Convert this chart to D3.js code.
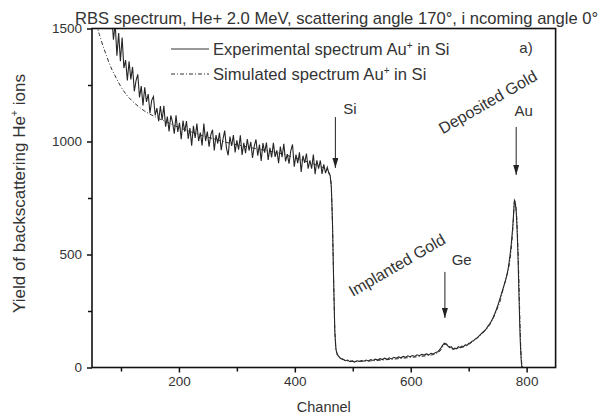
<!DOCTYPE html>
<html><head><meta charset="utf-8">
<script src="https://cdn.jsdelivr.net/npm/d3@7"></script>
<style>
html,body{margin:0;padding:0;background:#fff;}
svg{display:block;font-family:"Liberation Sans",Arial,sans-serif;}
</style></head>
<body>
<svg id="chart" width="602" height="416"></svg>
<script>
// ---- data ----
const xTicksMajor = [200, 400, 600, 800];
const xTicksMinor = [100, 300, 500, 700];
const yTicksMajor = [0, 500, 1000, 1500];
const yTicksMinor = [250, 750, 1250];

const expChannel = [84,87,90,93,96,99,102,105,108,111,114,117,120,123,126,129,132,135,138,141,144,147,150,153,156,159,162,165,168,171,174,177,180,183,186,189,192,195,198,201,204,207,210,213,216,219,222,225,228,231,234,237,240,243,246,249,252,255,258,261,264,267,270,273,276,279,282,285,288,291,294,297,300,303,306,309,312,315,318,321,324,327,330,333,336,339,342,345,348,351,354,357,360,363,366,369,372,375,378,381,384,387,390,393,396,399,402,405,408,411,414,417,420,423,426,429,432,435,438,441,444,447,450,453,456,459,
461,463,465,467,469,471,473,476,479,483,487,491,495,499,503,507,511,515,519,523,527,531,535,539,543,547,551,555,559,563,567,571,575,579,583,587,591,595,599,603,607,611,615,619,623,627,631,635,639,643,647,651,655,658,661,664,667,670,673,676,679,682,685,688,691,694,697,700,703,706,709,712,715,718,721,724,727,730,733,736,739,742,745,748,751,754,757,760,763,766,768,770,772,774,776,778,779,780,781,782,783,784,785,786,787,788,789,790,791,792];
const expCount = [1560,1450,1520,1380,1480,1355,1460,1325,1360,1270,1355,1275,1330,1222,1269,1297,1195,1245,1160,1240,1175,1210,1125,1182,1199,1116,1148,1090,1157,1095,1158,1066,1110,1045,1115,1085,1035,1116,1042,1083,1010,1092,1044,1090,1012,1059,981,1069,1016,1079,1002,1039,982,1079,1002,1044,977,1029,1052,960,1028,991,1039,962,1010,1048,971,939,1022,980,1028,952,1005,964,1027,941,994,948,1011,960,998,927,980,1009,937,986,914,993,951,995,918,972,930,994,932,961,904,978,931,990,912,944,902,959,987,889,942,904,952,865,937,905,947,880,917,880,942,855,917,880,916,857,899,860,886,857,
850,800,640,380,160,80,58,48,40,36,30,33,26,29,24,30,27,31,28,33,29,35,31,37,33,39,35,41,36,43,38,45,41,47,43,49,45,52,48,53,49,56,52,58,55,60,56,63,60,66,70,82,98,108,104,96,88,92,80,86,83,92,88,95,92,100,98,106,110,116,120,128,132,140,148,155,162,170,182,192,205,220,238,258,280,305,330,355,380,410,435,470,510,560,620,700,740,735,715,690,640,580,500,400,300,200,120,60,20,0];

const simChannel = [52,55,60,65,70,75,80,85,90,95,100,110,120,130,140,150,160,170,180,190,200,215,230,245,260,275,290,305,320,335,350,365,380,395,410,425,440,450,458,461,463,465,467,469,471,474,478,485,495,510,530,550,570,590,610,630,645,652,657,661,665,670,676,684,692,700,710,720,730,740,748,755,760,765,769,772,775,777,779,781,783,785,787,789,791,793];
const simCount = [1640,1580,1500,1455,1415,1380,1345,1315,1290,1265,1242,1205,1178,1155,1136,1121,1108,1096,1085,1073,1062,1048,1035,1022,1012,1001,991,983,975,967,960,953,944,932,920,907,893,883,868,846,795,630,385,165,82,57,45,34,28,27,29,33,37,42,47,53,62,78,100,104,97,87,82,86,92,102,120,142,168,205,252,300,352,400,440,490,570,650,735,722,665,535,355,155,38,0];

const titleText = "RBS spectrum, He+ 2.0 MeV, scattering angle 170°, i ncoming angle 0°";
const legendLabels = ["Experimental spectrum Au", "Simulated spectrum Au"];
// annotations in data coords
const arrowLabels = ["Si", "Au", "Ge"];
const arrowChannel = [470, 782, 659];
const arrowFrom = [1108, 1064, 423];
const arrowTo = [883, 852, 219];
const labelChannel = [495, 795, 688];
const labelCount = [1148, 1139, 476];
const slantLabels = ["Deposited Gold", "Implanted Gold"];
const slantChannel = [733, 576];
const slantCount = [1175, 453];

// ---- layout ----
const svg = d3.select("#chart");
const L = 92, R = 555.6, T = 28.5, B = 367.5;
const x = d3.scaleLinear().domain([50, 850]).range([L, R]);
const y = d3.scaleLinear().domain([0, 1500]).range([B, T]);
const txt = "#333";

svg.append("defs").append("clipPath").attr("id","clip")
  .append("rect").attr("x",L).attr("y",T).attr("width",R-L).attr("height",B-T);
const mk = svg.select("defs").append("marker").attr("id","arr")
  .attr("viewBox","0 0 10 6").attr("refX",10).attr("refY",3)
  .attr("markerWidth",10).attr("markerHeight",6).attr("markerUnits","userSpaceOnUse")
  .attr("orient","auto");
mk.append("path").attr("d","M0,0 L10,3 L0,6 Z").attr("fill","#222");

// title
svg.append("text").attr("x", 75).attr("y", 23.5).attr("font-size", 16.6).attr("fill", txt).text(titleText);

// data lines
const expData = expChannel.map((c,i)=>[c, expCount[i]]);
const simData = simChannel.map((c,i)=>[c, simCount[i]]);
const g = svg.append("g").attr("clip-path","url(#clip)");
g.append("path").datum(simData).attr("d", d3.line().x(d=>x(d[0])).y(d=>y(d[1])).curve(d3.curveMonotoneX))
  .attr("fill","none").attr("stroke","#333").attr("stroke-width",1).attr("stroke-dasharray","4,2,1,2");
g.append("path").datum(expData).attr("d", d3.line().x(d=>x(d[0])).y(d=>y(d[1])))
  .attr("fill","none").attr("stroke","#262626").attr("stroke-width",1.1);

// frame
svg.append("rect").attr("x",L).attr("y",T).attr("width",R-L).attr("height",B-T)
  .attr("fill","none").attr("stroke","#111").attr("stroke-width",1.6);

// axes
const xa = svg.append("g").attr("transform",`translate(0,${B})`);
xa.call(d3.axisBottom(x).tickValues(xTicksMajor).tickSize(5).tickPadding(4).tickFormat(d3.format("d")));
const xm = svg.append("g").attr("transform",`translate(0,${B})`);
xm.call(d3.axisBottom(x).tickValues(xTicksMinor).tickSize(4).tickFormat(""));
const ya = svg.append("g").attr("transform",`translate(${L},0)`);
ya.call(d3.axisLeft(y).tickValues(yTicksMajor).tickSize(5).tickPadding(5).tickFormat(d3.format("d")));
const ym = svg.append("g").attr("transform",`translate(${L},0)`);
ym.call(d3.axisLeft(y).tickValues(yTicksMinor).tickSize(4).tickFormat(""));
svg.selectAll(".domain").remove();
svg.selectAll(".tick line").attr("stroke","#111").attr("stroke-width",1.5);
svg.selectAll(".tick text").attr("font-size",13.5).attr("fill",txt)
  .attr("font-family",'"Liberation Sans",Arial,sans-serif');

// axis titles
svg.append("text").attr("x",(L+R)/2).attr("y",412).attr("text-anchor","middle")
  .attr("font-size",14.5).attr("fill",txt).text("Channel");
const yt = svg.append("text").attr("transform",`translate(25,313) rotate(-90)`)
  .attr("text-anchor","start").attr("font-size",17).attr("fill",txt);
yt.append("tspan").text("Yield of backscattering He");
yt.append("tspan").attr("font-size",10.5).attr("dy",-7).text("+");
yt.append("tspan").attr("dy",7).text(" ions");

// legend
const legY = [49, 74];
const dashes = [null, "4,2,1,2"];
legendLabels.forEach((lab,i)=>{
  svg.append("line").attr("x1",171).attr("x2",209).attr("y1",legY[i]).attr("y2",legY[i])
    .attr("stroke","#333").attr("stroke-width",1).attr("stroke-dasharray",dashes[i]);
  const t = svg.append("text").attr("x",213).attr("y",legY[i]+5.5).attr("font-size",16.6).attr("fill",txt);
  t.append("tspan").text(lab);
  t.append("tspan").attr("font-size",10).attr("dy",-6).text("+");
  t.append("tspan").attr("dy",6).text(" in Si");
});

// panel label
svg.append("text").attr("x",x(799)).attr("y",y(1413)+5).attr("text-anchor","middle")
  .attr("font-size",15).attr("fill",txt).text("a)");

// arrows
arrowLabels.forEach((lab,i)=>{
  svg.append("line").attr("x1",x(arrowChannel[i])).attr("x2",x(arrowChannel[i]))
    .attr("y1",y(arrowFrom[i])).attr("y2",y(arrowTo[i]))
    .attr("stroke","#222").attr("stroke-width",1).attr("marker-end","url(#arr)");
  svg.append("text").attr("x",x(labelChannel[i])).attr("y",y(labelCount[i])+5.5)
    .attr("text-anchor","middle").attr("font-size",15).attr("fill",txt).text(lab);
});
slantLabels.forEach((lab,i)=>{
  svg.append("text").attr("transform",`translate(${x(slantChannel[i])},${y(slantCount[i])}) rotate(-30)`)
    .attr("text-anchor","middle").attr("dy","0.35em").attr("font-size",16).attr("fill",txt).text(lab);
});
</script>
</body></html>
